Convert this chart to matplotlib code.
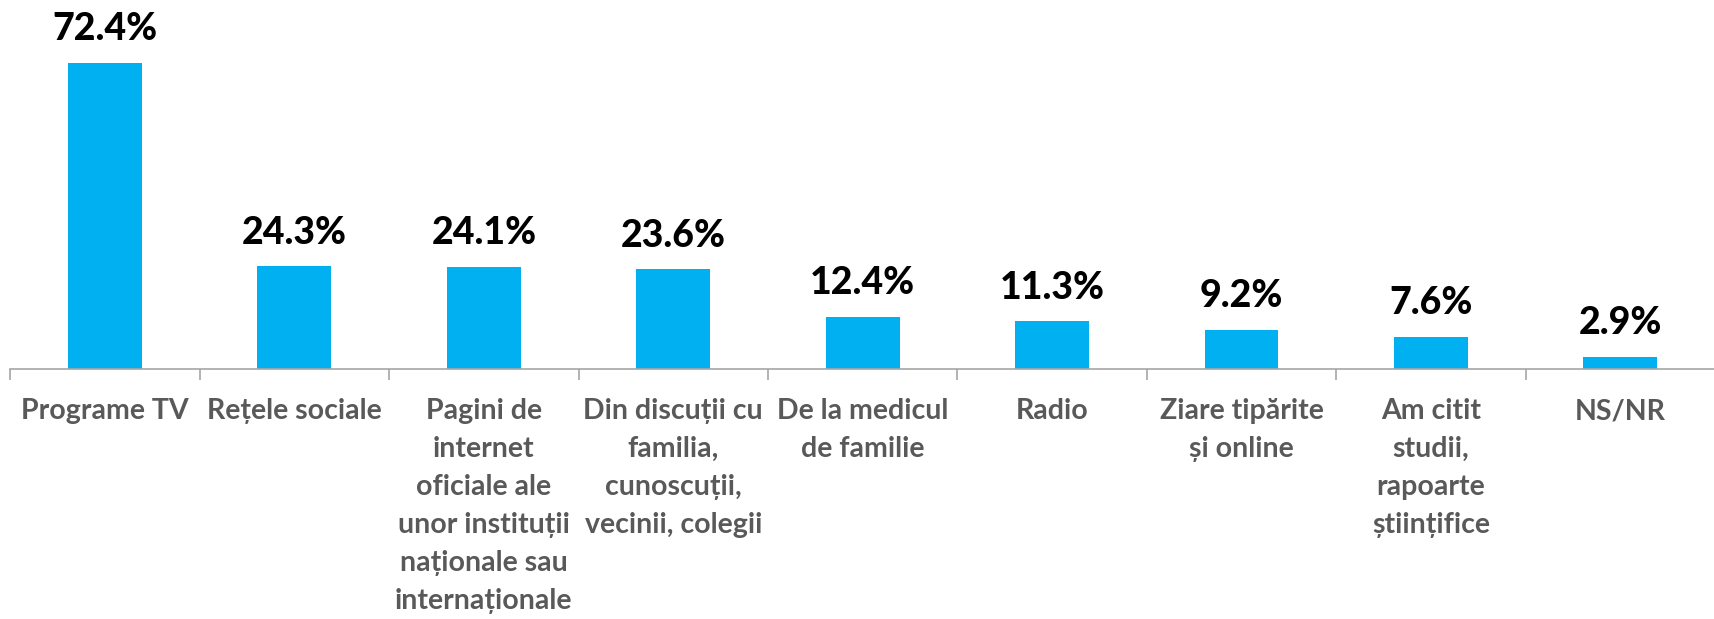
import matplotlib.pyplot as plt
import numpy as np

plt.rcParams['font.family'] = ['Lato', 'DejaVu Sans']

# Date
categorii = [
    'Programe TV',
    'Rețele sociale',
    'Pagini de\ninternet\noficiale ale\nunor instituții\nnaționale sau\ninternaționale',
    'Din discuții cu\nfamilia,\ncunoscuții,\nvecinii, colegii',
    'De la medicul\nde familie',
    'Radio',
    'Ziare tipărite\nși online',
    'Am citit\nstudii,\nrapoarte\nștiințifice',
    'NS/NR',
]
procente = [72.4, 24.3, 24.1, 23.6, 12.4, 11.3, 9.2, 7.6, 2.9]

x = np.arange(len(categorii))

fig = plt.figure(figsize=(17.15, 6.19), dpi=100)
ax = fig.add_axes([0.006, 0.4039, 0.994, 0.5961])

ax.bar(x, procente, width=0.39, color='#00B0F0')

# Etichete cu valori
for xi, v in zip(x, procente):
    ax.annotate(f'{v:.1f}%', (xi, v), xytext=(0, 12), textcoords='offset points',
                ha='center', va='bottom', fontsize=27, fontweight='black', color='black')

ax.set_xlim(-0.5, 8.444)
ax.set_ylim(0, 87.3)

ax.set_xticks(x)
ax.set_xticklabels(categorii, fontsize=20.5, fontweight='bold', color='#595959',
                   linespacing=1.57, va='top')
ax.tick_params(axis='x', which='major', length=0, pad=21)
ax.set_xticks(np.arange(-0.5, 9, 1), minor=True)
ax.tick_params(axis='x', which='minor', length=8, width=1.2, color='#A6A6A6')
ax.set_yticks([])

for s in ['top', 'right', 'left']:
    ax.spines[s].set_visible(False)
ax.spines['bottom'].set_color('#A6A6A6')
ax.spines['bottom'].set_linewidth(1.2)

fig.savefig('out.png', dpi=100)
